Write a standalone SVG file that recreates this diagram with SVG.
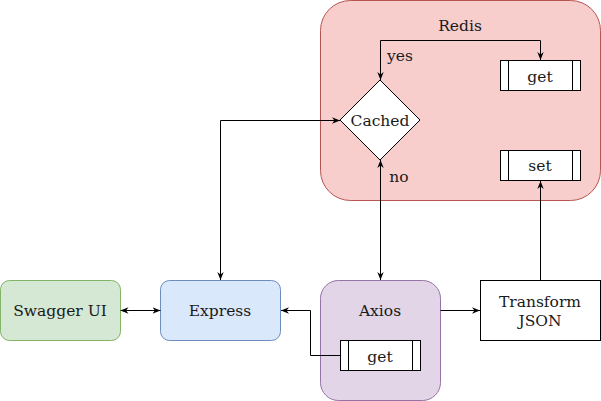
<svg xmlns="http://www.w3.org/2000/svg" width="601" height="401" viewBox="0 0 601 401">
<defs>
<marker id="arr" viewBox="0 0 10 10" refX="10" refY="5" markerWidth="8" markerHeight="8" markerUnits="userSpaceOnUse" orient="auto-start-reverse">
<path d="M0,1 L10,5 L0,9 L3,5 Z" fill="#000"/>
</marker>
<style>
text{font-family:"DejaVu Serif",serif;font-size:15.5px;fill:#1a1a1a;text-anchor:middle;dominant-baseline:central}
.edge{fill:none;stroke:#000;stroke-width:1}
.box{fill:#fff;stroke:#000;stroke-width:1}
</style>
</defs>
<g id="redis">
<rect x="320.5" y="0.5" width="280" height="200" rx="30" fill="#f8cecc" stroke="#b85450"/>
<text x="460" y="25.5">Redis</text>
</g>
<g id="cached">
<path d="M380,80 L420,120 L380,160 L340,120 Z" class="box"/>
<text x="380" y="120.5">Cached</text>
</g>
<g id="redis-get">
<rect x="500.5" y="60.5" width="80" height="30" class="box"/>
<path d="M508.5,60.5 V90.5 M572.5,60.5 V90.5" class="edge"/>
<text x="540" y="76.5">get</text>
</g>
<g id="redis-set">
<rect x="500.5" y="150.5" width="80" height="30" class="box"/>
<path d="M508.5,150.5 V180.5 M572.5,150.5 V180.5" class="edge"/>
<text x="540" y="166">set</text>
</g>
<g id="swagger">
<rect x="0.5" y="280.5" width="120" height="60" rx="9" fill="#d5e8d4" stroke="#82b366"/>
<text x="60" y="310.5">Swagger UI</text>
</g>
<g id="express">
<rect x="160.5" y="280.5" width="120" height="60" rx="9" fill="#dae8fc" stroke="#6c8ebf"/>
<text x="220" y="310.5">Express</text>
</g>
<g id="axios">
<rect x="320.5" y="280.5" width="120" height="120" rx="18" fill="#e1d5e7" stroke="#9673a6"/>
<text x="380" y="310.5">Axios</text>
</g>
<g id="axios-get">
<rect x="340.5" y="340.5" width="80" height="30" class="box"/>
<path d="M348.5,340.5 V370.5 M412.5,340.5 V370.5" class="edge"/>
<text x="380" y="356.5">get</text>
</g>
<g id="transform">
<rect x="480.5" y="280.5" width="120" height="60" class="box"/>
<text x="540" y="301.5">Transform</text>
<text x="540" y="320.5">JSON</text>
</g>
<g id="connectors">
<path d="M380.5,80 V40.5 H540.5 V60" class="edge" marker-start="url(#arr)" marker-end="url(#arr)"/>
<text x="400" y="56">yes</text>
<path d="M220.5,280 V120.5 H340" class="edge" marker-start="url(#arr)" marker-end="url(#arr)"/>
<path d="M380.5,160 V280" class="edge" marker-start="url(#arr)" marker-end="url(#arr)"/>
<text x="399" y="176.5">no</text>
<path d="M120.5,310.5 H160.5" class="edge" marker-start="url(#arr)" marker-end="url(#arr)"/>
<path d="M340.5,355.5 H310.5 V310.5 H281" class="edge" marker-end="url(#arr)"/>
<path d="M440.5,310.5 H480" class="edge" marker-end="url(#arr)"/>
<path d="M540.5,280 V181" class="edge" marker-end="url(#arr)"/>
</g>
</svg>
